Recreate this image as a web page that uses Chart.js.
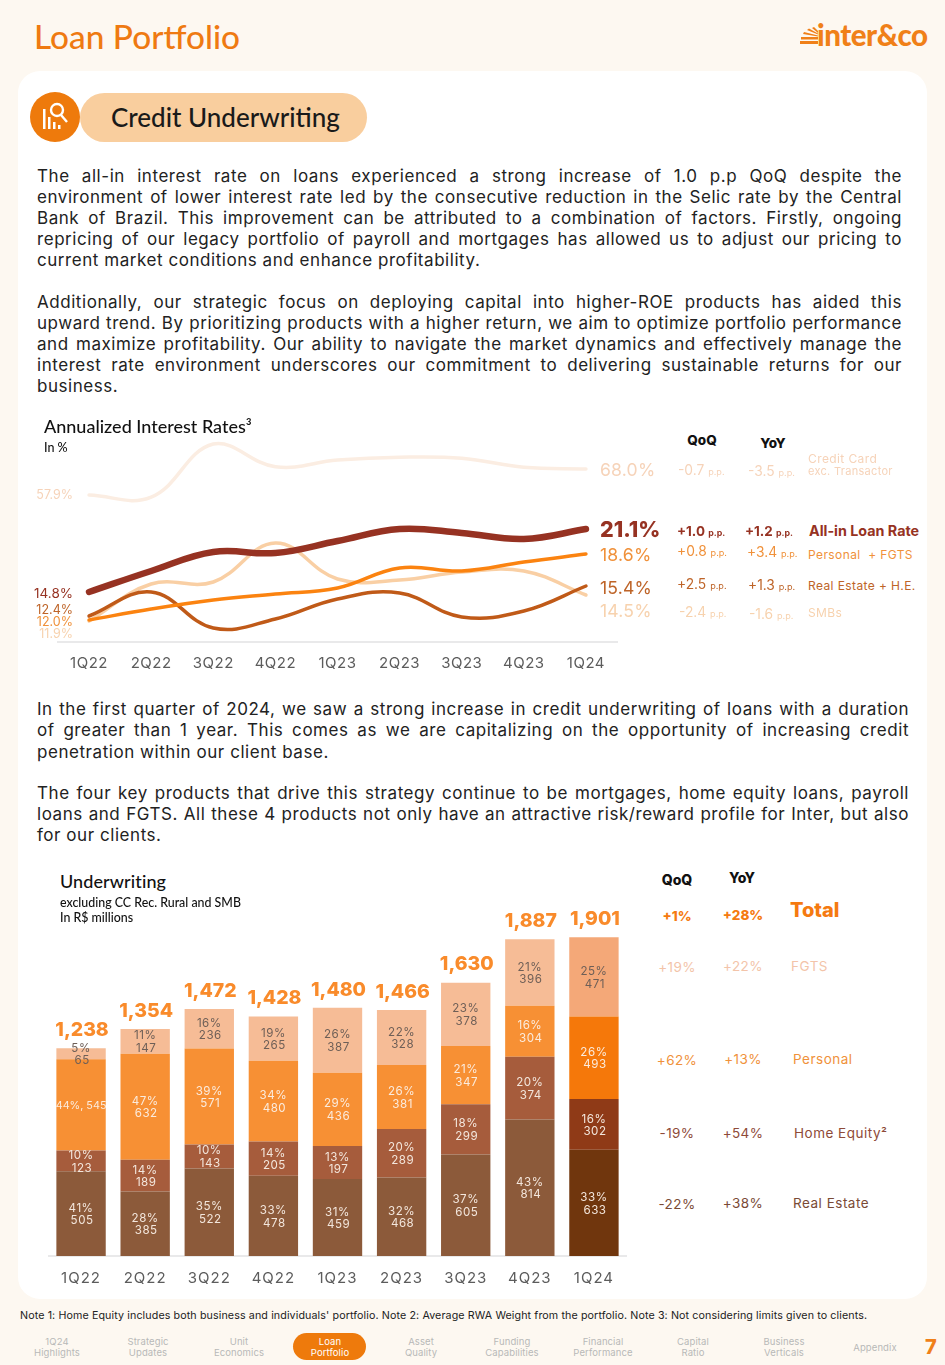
<!DOCTYPE html>
<html><head><meta charset="utf-8">
<script src="https://cdn.jsdelivr.net/npm/chart.js@4/dist/chart.umd.min.js"></script>
<style>
html,body{margin:0;padding:0;background:#FDF8F1;}
#page{position:relative;width:945px;height:1365px;overflow:hidden;background:#FDF8F1;font-family:Inter,sans-serif;}
#panel{position:absolute;left:18px;top:71px;width:909px;height:1228px;background:#fff;border-radius:22px;}
canvas{position:absolute;}
.t{position:absolute;white-space:nowrap;transform:translateY(-50%);line-height:1.1;}
.j{position:absolute;transform:translateY(-50%);text-align:justify;text-align-last:justify;font-size:17px;line-height:21px;color:#222;letter-spacing:.55px;white-space:normal;height:21px;}
.pp{font-size:.66em;}
</style></head><body>
<div id="page">
<div id="panel"></div>
<canvas id="lineChart" width="640" height="270" style="left:0;top:420px;width:640px;height:270px"></canvas>
<canvas id="barChart" width="640" height="400" style="left:0;top:900px;width:640px;height:400px"></canvas>
<svg style="position:absolute;left:800px;top:27px" width="20" height="18" viewBox="0 0 20 18"><g fill="#F08018"><rect x="0" y="14" width="18" height="3"/><rect x="1" y="10" width="17" height="2.5"/><polygon points="3,7 18,9.5 18,8.5 4,5"/><polygon points="7,3 18,7.5 18,6.5 9,1.5"/><polygon points="12,1 18,6 18,4 14,0"/></g></svg>
<svg style="position:absolute;left:30px;top:92px" width="50" height="50" viewBox="0 0 50 50"><circle cx="25" cy="25" r="25" fill="#EE7A0C"/><g fill="none" stroke="#fff" stroke-width="2.4"><circle cx="27" cy="18" r="6"/><path d="M31 23l6 7"/></g><g fill="#fff"><rect x="13" y="17" width="2.5" height="20"/><rect x="18" y="25" width="2.5" height="12"/><rect x="23" y="30" width="2.5" height="7"/><rect x="28" y="33" width="2.5" height="4"/></g></svg>
<div style="position:absolute;left:80px;top:93px;width:287px;height:49px;border-radius:25px;background:#F9CE9E"></div>
</div>
<script>
const quarters=['1Q22','2Q22','3Q22','4Q22','1Q23','2Q23','3Q23','4Q23','1Q24'];
// Annualized interest rates (%)
const allInRate=[14.8,16.9,18.8,18.7,19.9,21.1,20.7,20.1,21.1];
const personalRate=[12.0,13.1,14.0,14.6,15.2,17.2,16.9,17.8,18.6];
const realEstateRate=[12.4,14.8,11.2,12.1,14.1,14.7,12.3,12.9,15.4];
const smbRate=[11.9,15.6,15.8,19.7,16.1,16.0,16.8,16.9,14.5];
const creditCardRate=[57.9,57.1,77.7,68.9,71.5,72.6,72.2,68.7,68.0];
// Underwriting (R$ millions)
const realEstate=[505,385,522,478,459,468,605,814,633];
const homeEquity=[123,189,143,205,197,289,299,374,302];
const personal=[545,632,571,480,436,381,347,304,493];
const fgts=[65,147,236,265,387,328,378,396,471];
const realEstatePct=[41,28,35,33,31,32,37,43,33];
const homeEquityPct=[10,14,10,14,13,20,18,20,16];
const personalPct=[44,47,39,34,29,26,21,16,26];
const fgtsPct=[5,11,16,19,26,22,23,21,25];
const totals=['1,238','1,354','1,472','1,428','1,480','1,466','1,630','1,887','1,901'];

const page=document.getElementById('page');
function T(x,y,html,o={}){
  const d=document.createElement('div');d.className='t';d.innerHTML=html;
  const s=d.style;
  s.top=y+'px';s.fontSize=(o.s||14)+'px';s.color=o.c||'#222';
  if(o.w)s.fontWeight=o.w;if(o.f)s.fontFamily=o.f;if(o.ls!==undefined)s.letterSpacing=o.ls+'px';
  if(o.a==='c'){s.left=x+'px';s.transform='translate(-50%,-50%)';s.textAlign='center';}
  else if(o.a==='r'){s.right=(945-x)+'px';}
  else s.left=x+'px';
  if(o.lh)s.lineHeight=o.lh;
  page.appendChild(d);return d;
}
function J(x,y,w,txt){const d=document.createElement('div');d.className='j';d.style.left=x+'px';d.style.top=y+'px';d.style.width=w+'px';d.textContent=txt;page.appendChild(d);}
const HF='Lato,sans-serif';
T(34,36,'Loan Portfolio',{s:33.4,c:'#EF7A12',f:HF,w:500});
T(817,35,'inter&amp;co',{s:29.5,c:'#F08018',f:HF,w:900,ls:-.5});
T(111,117,'Credit Underwriting',{s:26,c:'#1a1a1a',f:HF,w:500});

const p1=['The all-in interest rate on loans experienced a strong increase of 1.0 p.p QoQ despite the','environment of lower interest rate led by the consecutive reduction in the Selic rate by the Central','Bank of Brazil. This improvement can be attributed to a combination of factors. Firstly, ongoing','repricing of our legacy portfolio of payroll and mortgages has allowed us to adjust our pricing to','current market conditions and enhance profitability.'];
const p2=['Additionally, our strategic focus on deploying capital into higher-ROE products has aided this','upward trend. By prioritizing products with a higher return, we aim to optimize portfolio performance','and maximize profitability. Our ability to navigate the market dynamics and effectively manage the','interest rate environment underscores our commitment to delivering sustainable returns for our','business.'];
const p3=['In the first quarter of 2024, we saw a strong increase in credit underwriting of loans with a duration','of greater than 1 year. This comes as we are capitalizing on the opportunity of increasing credit','penetration within our client base.'];
const p4=['The four key products that drive this strategy continue to be mortgages, home equity loans, payroll','loans and FGTS. All these 4 products not only have an attractive risk/reward profile for Inter, but also','for our clients.'];
function para(lines,x,ys,w){lines.forEach((l,i)=>{if(i===lines.length-1)T(x,ys[i],l,{s:17,c:'#222',ls:.55});else J(x,ys[i],w,l);});}
para(p1,37,[176,197,218,239,260],865);
para(p2,37,[302,323,344,365,386],865);
para(p3,37,[709,730,752],872);
para(p4,37,[793,814,835],872);

T(44,427,'Annualized Interest Rates³',{s:18,c:'#111',f:HF,w:500});
T(44,448,'In %',{s:12.5,c:'#111',f:HF,w:500});
const cCard='#F6D3B9',cAll='#963222',cPers='#F0913A',cRE='#BE6428',cSMB='#F7D2AE';
T(702,440,'QoQ',{s:13.5,c:'#111',w:800,a:'c'});T(773,443,'YoY',{s:13.5,c:'#111',w:800,a:'c'});
function ppTxt(v){return v+' <span class="pp">p.p.</span>';}
[[470,'68.0%',cCard,678,471,'-0.7',748,472,'-3.5'],[555,'18.6%',cPers,677,552,'+0.8',747,553,'+3.4'],[588,'15.4%',cRE,677,585,'+2.5',748,586,'+1.3'],[611,'14.5%',cSMB,679,613,'-2.4',749,615,'-1.6']].forEach(r=>{
  T(600,r[0],r[1],{s:17.6,c:r[2],ls:.2});
  T(r[3],r[4],ppTxt(r[5]),{s:13.8,c:r[2]});
  T(r[6],r[7],ppTxt(r[8]),{s:13.8,c:r[2]});
});
T(600,530,'21.1%',{s:21.5,c:cAll,w:800});
T(677,531,ppTxt('+1.0'),{s:13.4,c:cAll,w:700});T(745,531,ppTxt('+1.2'),{s:13.4,c:cAll,w:700});
T(809,531,'All-in Loan Rate',{s:14.3,c:cAll,w:700});
T(808,459,'Credit Card',{s:12,c:cCard,ls:.4});T(808,471,'exc. Transactor',{s:11,c:cCard,ls:.3});
T(808,555,'Personal &nbsp;+ FGTS',{s:12,c:cPers,ls:.4});
T(808,586,'Real Estate + H.E.',{s:12,c:cRE,ls:.4});
T(808,613,'SMBs',{s:12,c:cSMB,ls:.4});
T(73,495,'57.9%',{s:12.5,c:cCard,a:'r'});T(73,593,'14.8%',{s:13.5,c:cAll,a:'r'});T(73,610,'12.4%',{s:12.5,c:cRE,a:'r'});
T(73,622,'12.0%',{s:12.5,c:cPers,a:'r'});T(73,634,'11.9%',{s:12.5,c:cSMB,a:'r'});

T(60,882,'Underwriting',{s:18,c:'#111',f:HF,w:500,ls:.1});
T(60,903,'excluding CC Rec. Rural and SMB',{s:12.4,c:'#111',f:HF,w:500});
T(60,918,'In R$ millions',{s:12.4,c:'#111',f:HF,w:500});
T(677,880,'QoQ',{s:14,c:'#111',w:800,a:'c'});T(742,878,'YoY',{s:14,c:'#111',w:800,a:'c'});
T(677,916,'+1%',{s:13.5,c:'#F57A10',w:800,a:'c'});T(743,915,'+28%',{s:13.5,c:'#F57A10',w:800,a:'c'});
T(790,910,'Total',{s:20,c:'#F57A10',w:800});
[[967,966,'+19%','+22%','FGTS',791,'#F3C4A9'],[1060,1059,'+62%','+13%','Personal',793,'#F0913A'],[1133,1133,'-19%','+54%','Home Equity²',794,'#8E4A38'],[1204,1203,'-22%','+38%','Real Estate',793,'#7A4A35']].forEach(r=>{
  T(677,r[0],r[2],{s:13.5,c:r[6],a:'c',ls:.4});T(743,r[1],r[3],{s:13.5,c:r[6],a:'c',ls:.4});T(r[5],r[1],r[4],{s:13.5,c:r[6],ls:.5});
});
T(20,1316,"Note 1: Home Equity includes both business and individuals' portfolio. Note 2: Average RWA Weight from the portfolio. Note 3: Not considering limits given to clients.",{s:10.7,c:'#222',ls:.11});
const pill=document.createElement('div');pill.style.cssText='position:absolute;left:293px;top:1333px;width:73px;height:27px;border-radius:14px;background:#EE7A0C';page.appendChild(pill);
[[57,'1Q24','Highlights'],[148,'Strategic','Updates'],[239,'Unit','Economics'],[330,'Loan','Portfolio'],[421,'Asset','Quality'],[512,'Funding','Capabilities'],[603,'Financial','Performance'],[693,'Capital','Ratio'],[784,'Business','Verticals']].forEach(n=>{
  T(n[0],1346.5,n[1]+'<br>'+n[2],{s:9.5,c:n[1]==='Loan'?'#fff':'#B8B8B8',a:'c',lh:'11.5px',ls:.1});
});
T(875,1348,'Appendix',{s:9.5,c:'#B8B8B8',a:'c',ls:.1});
T(931,1347,'7',{s:20,c:'#F08018',w:800,a:'c'});

const spacing=ls=>({id:'sp',beforeDraw(c){c.ctx.letterSpacing=ls;}});
const tickFont={family:'Inter',size:15};
const xAxis=(h,pad)=>({offset:true,
  afterFit(s){s.height=h;},
  border:{display:true,color:'#E9E9EA',width:2},
  grid:{drawOnChartArea:false,drawTicks:false},
  ticks:{color:'#5c5c5c',font:tickFont,padding:pad,autoSkip:false,maxRotation:0,minRotation:0}});
const ln=(data,color,w,axis)=>({data,borderColor:color,borderWidth:w,yAxisID:axis,tension:.4,pointRadius:0,fill:false,borderCapStyle:'round',borderJoinStyle:'round'});
new Chart(document.getElementById('lineChart'),{type:'line',
  data:{labels:quarters,datasets:[
    ln(allInRate,'#963222',6.5,'y'),ln(personalRate,'#FB8310',3.5,'y'),ln(realEstateRate,'#C05A18',3.5,'y'),ln(smbRate,'#F9CFA4',3.5,'y'),ln(creditCardRate,'#FBEDE2',3.5,'y2')]},
  plugins:[spacing('0.5px')],
  options:{responsive:false,animation:false,events:[],
    layout:{padding:{left:58,right:23,top:20,bottom:0}},
    plugins:{legend:{display:false},tooltip:{enabled:false}},
    scales:{x:xAxis(48,12),
      y:{display:false,min:9.8,max:30},
      y2:{display:false,min:0.79,max:79.27}}}});

const mk=(data,colors)=>({data,backgroundColor:colors,borderWidth:0,stack:'s',categoryPercentage:1,barPercentage:.77});
const last=(a,b)=>quarters.map((_,i)=>i===quarters.length-1?b:a);
const segs=[[realEstate,realEstatePct,'#F3E6DC'],[homeEquity,homeEquityPct,'#F3E6DC'],[personal,personalPct,'#FBEBDD'],[fgts,fgtsPct,'#6E5F57']];
const labelPlugin={id:'labels',afterDatasetsDraw(c){
  const x=c.ctx;x.save();x.textAlign='center';x.textBaseline='middle';x.letterSpacing='0.5px';
  x.font='400 11.6px Inter';
  segs.forEach((sg,ds)=>{
    const meta=c.getDatasetMeta(ds);
    meta.data.forEach((b,i)=>{
      const mid=(b.y+b.base)/2+.9;x.fillStyle=sg[2];
      if(ds===2&&i===0){x.letterSpacing='0px';x.font='400 10.8px Inter';x.fillText(sg[1][i]+'%, '+sg[0][i],b.x,mid);x.letterSpacing='0.5px';x.font='400 11.6px Inter';return;}
      x.fillText(sg[1][i]+'%',b.x,mid-6.3);x.fillText(String(sg[0][i]),b.x+1,mid+6.3);
    });
  });
  x.font='800 19.4px Inter';x.letterSpacing='0px';x.fillStyle='#F98B2B';
  const top=c.getDatasetMeta(3).data;
  top.forEach((b,i)=>x.fillText(totals[i],b.x+1,b.y-18));
  x.restore();
}};
new Chart(document.getElementById('barChart'),{type:'bar',
  data:{labels:quarters,datasets:[
    mk(realEstate,last('#8C5A3A','#70360D')),
    mk(homeEquity,last('#A65C3C','#8F3A17')),
    mk(personal,last('#F79034','#F5780A')),
    mk(fgts,last('#F6BC96','#F4A878'))]},
  plugins:[spacing('1px'),labelPlugin],
  options:{responsive:false,animation:false,events:[],
    layout:{padding:{left:49,right:14,top:20.4,bottom:0}},
    plugins:{legend:{display:false},tooltip:{enabled:false}},
    scales:{x:Object.assign(xAxis(44,13),{stacked:true}),
      y:{display:false,stacked:true,min:0,max:2000}}}});
</script>
</body></html>
